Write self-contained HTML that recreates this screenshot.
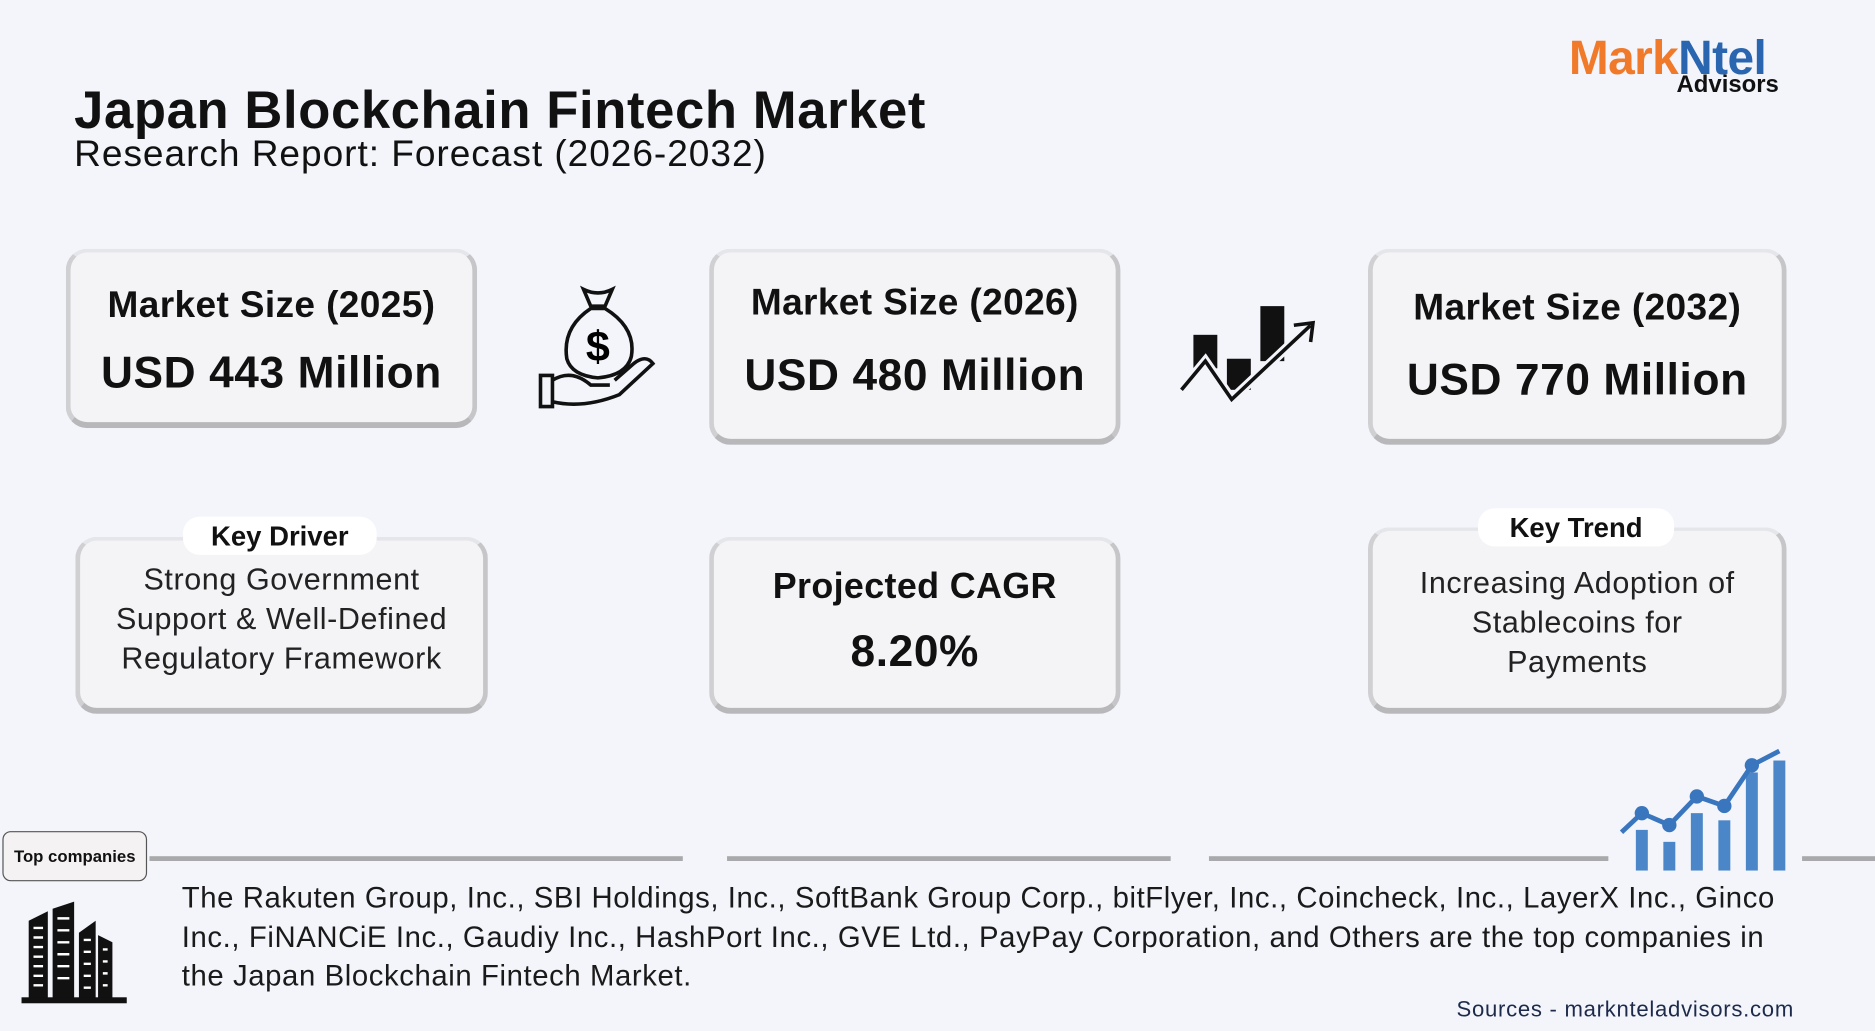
<!DOCTYPE html>
<html><head><meta charset="utf-8"><style>
html,body{margin:0;padding:0;background:#f3f5fb;overflow:hidden}
#wrap{width:1568px;height:862px;position:relative;transform:scale(1.1958);transform-origin:0 0;font-family:"Liberation Sans",sans-serif;color:#111}
.abs{position:absolute}
.card{position:absolute;box-sizing:border-box;background:#f4f3f6;border:3px solid #e4e6ea;border-bottom:5px solid #b8b8bb;border-right:4px solid #c6c6c8;border-left:4px solid #d0d0d2;border-radius:18px;text-align:center}
.t{font-size:31px;font-weight:bold;letter-spacing:.3px}
.v{font-size:37px;font-weight:bold;letter-spacing:.5px}
.pill{position:absolute;background:#fff;border-radius:14px;font-weight:bold;font-size:23px;text-align:center;line-height:32px}
.body{font-size:25.5px;line-height:33px;color:#222;letter-spacing:.5px}
.line{position:absolute;height:4px;background:#a9a9ab;top:716px}
</style></head><body>
<div id="wrap">
<div class="abs" style="left:1312px;top:27px;font-weight:bold;font-size:40px;letter-spacing:-0.5px"><span style="color:#f07a2a">Mark</span><span style="color:#2a65b0">Ntel</span></div>
<div class="abs" style="left:1402px;top:60px;font-weight:bold;font-size:20px">Advisors</div>
<div class="abs" style="left:62px;top:68px;font-size:44px;font-weight:bold;letter-spacing:.5px">Japan Blockchain Fintech Market</div>
<div class="abs" style="left:62px;top:111px;font-size:31px;letter-spacing:.8px">Research Report: Forecast (2026-2032)</div>

<div class="card" style="left:55px;top:208px;width:344px;height:150px">
<div class="t" style="margin-top:26px">Market Size (2025)</div><div class="v" style="margin-top:18px">USD 443 Million</div></div>
<div class="card" style="left:593px;top:208px;width:344px;height:164px">
<div class="t" style="margin-top:24px">Market Size (2026)</div><div class="v" style="margin-top:22px">USD 480 Million</div></div>
<div class="card" style="left:1144px;top:208px;width:350px;height:164px">
<div class="t" style="margin-top:28px">Market Size (2032)</div><div class="v" style="margin-top:22px">USD 770 Million</div></div>

<svg class="abs" style="left:448px;top:238px" width="102" height="106" viewBox="0 0 102 106">
<path d="M40 4 Q52 10 64 4 L58 18 L46 18 Z" fill="none" stroke="#111" stroke-width="3"/>
<path d="M46 20 Q22 36 26 62 Q30 76 52 78 Q76 76 80 60 Q84 36 58 20 Z" fill="none" stroke="#111" stroke-width="3"/>
<text x="52" y="64" font-size="36" font-weight="bold" text-anchor="middle" font-family="Liberation Sans">$</text>
<path d="M4 76 L14 76 L14 102 L4 102 Z M14 80 Q30 70 46 84 L62 84 M14 98 Q40 104 70 92 L98 66 Q92 58 82 66 L66 80" fill="none" stroke="#111" stroke-width="3"/>
</svg>
<svg class="abs" style="left:986px;top:252px" width="118" height="86" viewBox="0 0 118 86">
<rect x="12" y="28" width="20" height="28" fill="#111"/><rect x="40" y="48" width="20" height="26" fill="#111"/><rect x="68" y="4" width="20" height="46" fill="#111"/>
<polyline points="2,74 22,50 44,82 110,20" fill="none" stroke="#f3f5fb" stroke-width="8"/>
<polyline points="2,74 22,50 44,82 110,20" fill="none" stroke="#111" stroke-width="3"/>
<polyline points="96,20 112,18 110,34" fill="none" stroke="#111" stroke-width="3"/>
</svg>

<div class="card" style="left:63px;top:449px;width:345px;height:148px">
<div class="body" style="margin-top:17px">Strong Government<br>Support &amp; Well-Defined<br>Regulatory Framework</div></div>
<div class="pill" style="left:153px;top:432px;width:162px">Key Driver</div>
<div class="card" style="left:593px;top:449px;width:344px;height:148px">
<div class="t" style="margin-top:22px;font-size:30px">Projected CAGR</div><div class="v" style="margin-top:16px">8.20%</div></div>
<div class="card" style="left:1144px;top:441px;width:350px;height:156px">
<div class="body" style="margin-top:28px">Increasing Adoption of<br>Stablecoins for<br>Payments</div></div>
<div class="pill" style="left:1236px;top:425px;width:164px">Key Trend</div>

<div class="line" style="left:125px;width:446px"></div>
<div class="line" style="left:608px;width:371px"></div>
<div class="line" style="left:1011px;width:334px"></div>
<div class="line" style="left:1507px;width:61px"></div>
<div class="abs" style="left:2px;top:695px;width:121px;height:42px;box-sizing:border-box;border:1px solid #555;border-radius:7px;background:#f4f2f2;font-size:14px;font-weight:bold;line-height:40px;text-align:center">Top companies</div>
<svg class="abs" style="left:16px;top:752px" width="92" height="88" viewBox="0 0 92 88">
<path d="M8 84 V18 L24 10 V84 Z M28 84 V8 L46 2 V84 Z M50 84 V28 L64 18 V84 Z M66 84 V30 L78 36 V84 Z" fill="#111"/>
<path d="M12 24 H20 M12 32 H20 M12 40 H20 M12 48 H20 M12 56 H20 M12 64 H20 M12 72 H20 M32 16 H42 M32 26 H42 M32 36 H42 M32 46 H42 M32 56 H42 M32 66 H42 M54 34 H60 M54 44 H60 M54 54 H60 M54 64 H60 M54 74 H60 M70 42 H74 M70 52 H74 M70 62 H74 M70 72 H74" stroke="#fff" stroke-width="2"/>
<rect x="2" y="82" width="88" height="5" fill="#111"/>
</svg>
<div class="abs body" style="left:152px;top:736px;width:1345px;font-size:24.5px;line-height:32.5px;color:#1a1a1a;letter-spacing:.5px">The Rakuten Group, Inc., SBI Holdings, Inc., SoftBank Group Corp., bitFlyer, Inc., Coincheck, Inc., LayerX Inc., Ginco Inc., FiNANCiE Inc., Gaudiy Inc., HashPort Inc., GVE Ltd., PayPay Corporation, and Others are the top companies in the Japan Blockchain Fintech Market.</div>
<div class="abs" style="left:1218px;top:833px;font-size:18.5px;letter-spacing:.6px;color:#1d2a4a">Sources - marknteladvisors.com</div>

<svg class="abs" id="bars" style="left:1350px;top:626px" width="150" height="106" viewBox="0 0 150 106"></svg>
</div>
<script>
const barValues=[34,24,48,42,82,92];
const lineValues=[44,34,58,50,84,96];
const svg=document.getElementById('bars');
const NS='http://www.w3.org/2000/svg';
const x0=18,step=23,bw=10,base=102,scale=1;
const y=v=>base-v*scale;
barValues.forEach((v,i)=>{const r=document.createElementNS(NS,'rect');
r.setAttribute('x',x0+i*step);r.setAttribute('y',y(v));r.setAttribute('width',bw);r.setAttribute('height',v*scale);r.setAttribute('fill','#4a86c8');


svg.appendChild(r);});
const pts=lineValues.map((v,i)=>[x0+i*step+bw/2,y(v)-4]);
const pl=document.createElementNS(NS,'polyline');
pl.setAttribute('points',[[6,y(32)]].concat(pts).map(p=>p.join(',')).join(' '));
pl.setAttribute('fill','none');pl.setAttribute('stroke','#3a76be');pl.setAttribute('stroke-width','4');


svg.appendChild(pl);
pts.slice(0,5).forEach(p=>{const c=document.createElementNS(NS,'circle');c.setAttribute('cx',p[0]);c.setAttribute('cy',p[1]);c.setAttribute('r',6);c.setAttribute('fill','#3a76be');


svg.appendChild(c);});
</script>
</body></html>
